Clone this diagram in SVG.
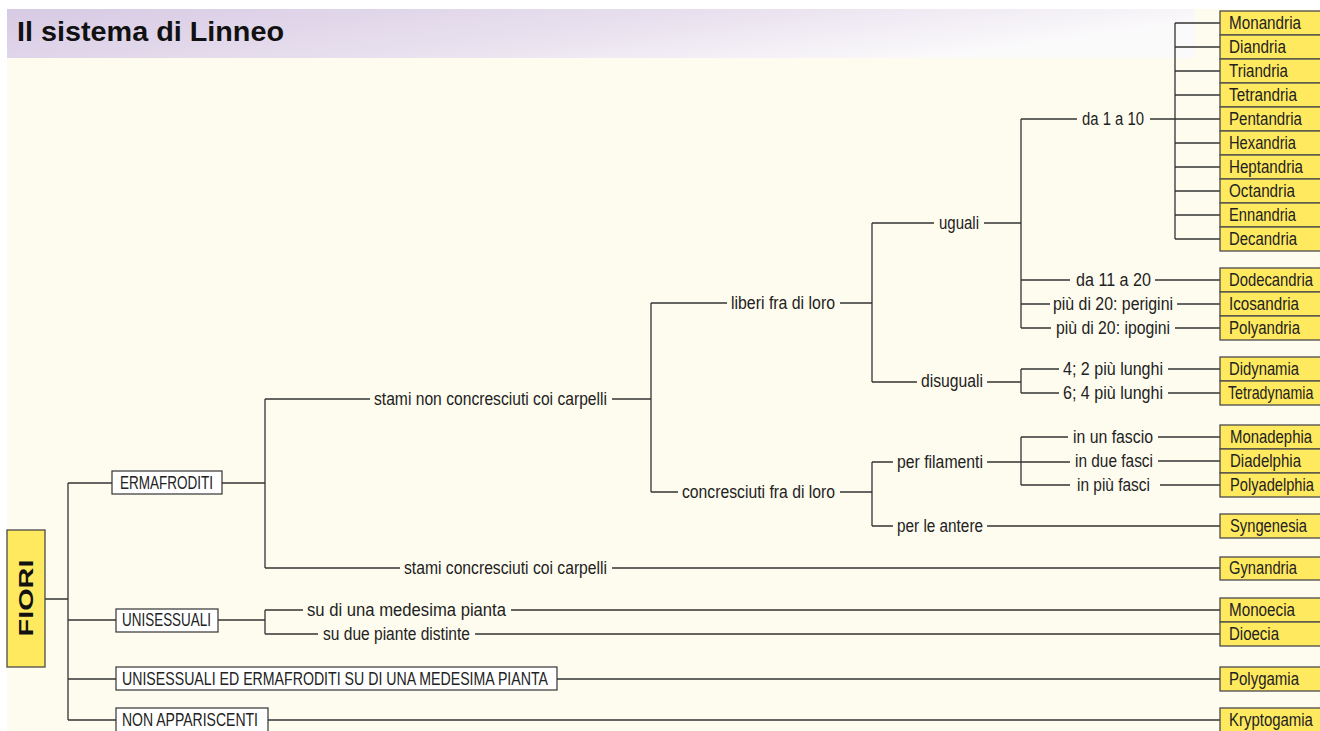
<svg xmlns="http://www.w3.org/2000/svg" width="1320" height="731" viewBox="0 0 1320 731">
<defs>
<linearGradient id="tg" x1="0" y1="0" x2="1" y2="0.3">
<stop offset="0" stop-color="#D7CAE4"/>
<stop offset="0.55" stop-color="#E8E0EE"/>
<stop offset="1" stop-color="#FBFAFB"/>
</linearGradient>
<style>
.ln{stroke:#333;stroke-width:1.3;fill:none}
.yb{fill:#FFE95F;stroke:#4a4a4a;stroke-width:1.3}
.wb{fill:#fff;stroke:#333;stroke-width:1.2}
.t{font-family:"Liberation Sans",Arial,sans-serif;font-size:17.5px;fill:#222}
.b{font-family:"Liberation Sans",Arial,sans-serif;font-weight:bold;fill:#111}
</style>
</defs>
<rect x="0" y="0" width="1320" height="731" fill="#fff"/>
<rect x="7" y="9" width="1313" height="722" fill="#FEFCEF"/>
<rect x="7" y="9" width="1188" height="49" fill="url(#tg)"/>
<text class="b" x="17" y="41" font-size="28" textLength="267" lengthAdjust="spacingAndGlyphs">Il sistema di Linneo</text>

<g id="connectors" class="ln">
<path d="M45 599H68M68 483V720M68 483H112M68 620H116M68 679H116M68 720H116"/>
<path d="M222 483H265M265 399V568M265 399H370M612 399H651M265 568H400M612 568H1220"/>
<path d="M651 303V492M651 303H727M840 303H872M651 492H678M840 492H872"/>
<path d="M872 223V382M872 223H934M984 223H1021M872 382H917M987 382H1021"/>
<path d="M1021 119V328M1021 119H1077M1150 119H1175M1175 23V239"/>
<path d="M1175 23H1220M1175 47H1220M1175 71H1220M1175 95H1220M1175 119H1220M1175 143H1220M1175 167H1220M1175 191H1220M1175 215H1220M1175 239H1220"/>
<path d="M1021 280H1070M1155 280H1220M1021 304H1050M1177 304H1220M1021 328H1051M1175 328H1220"/>
<path d="M1021 369V393M1021 369H1059M1168 369H1220M1021 393H1059M1168 393H1220"/>
<path d="M872 462V526M872 462H893M987 462H1070M1021 437V485M1021 437H1068M1158 437H1220M1158 461H1220M1021 485H1070M1160 485H1220M872 526H893M987 526H1220"/>
<path d="M218 620H265M265 610V634M265 610H303M511 610H1220M265 634H318M475 634H1220M557 679H1220M268 720H1220"/>
</g>

<g id="fiori"><rect class="yb" x="7" y="530" width="38" height="137"/><text class="b" font-size="21" text-anchor="middle" transform="translate(33 598) rotate(-90)" textLength="77" lengthAdjust="spacingAndGlyphs">FIORI</text></g>

<g id="ermafroditi"><rect class="wb" x="112" y="471" width="110" height="23"/><text class="t" x="120" y="489" textLength="93" lengthAdjust="spacingAndGlyphs">ERMAFRODITI</text></g>
<g id="unisessuali"><rect class="wb" x="116" y="609" width="102" height="23"/><text class="t" x="122" y="626" textLength="89" lengthAdjust="spacingAndGlyphs">UNISESSUALI</text></g>
<g id="unisessuali-ermafroditi"><rect class="wb" x="116" y="667" width="441" height="23"/><text class="t" x="122" y="685" textLength="426" lengthAdjust="spacingAndGlyphs">UNISESSUALI ED ERMAFRODITI SU DI UNA MEDESIMA PIANTA</text></g>
<g id="non-appariscenti"><rect class="wb" x="116" y="708" width="152" height="28"/><text class="t" x="122" y="726" textLength="136" lengthAdjust="spacingAndGlyphs">NON APPARISCENTI</text></g>

<g id="stami-non"><text class="t" x="374" y="405" textLength="233" lengthAdjust="spacingAndGlyphs">stami non concresciuti coi carpelli</text></g>
<g id="stami-conc"><text class="t" x="404" y="574" textLength="203" lengthAdjust="spacingAndGlyphs">stami concresciuti coi carpelli</text></g>
<g id="liberi"><text class="t" x="731" y="309" textLength="104" lengthAdjust="spacingAndGlyphs">liberi fra di loro</text></g>
<g id="concresciuti"><text class="t" x="682" y="498" textLength="153" lengthAdjust="spacingAndGlyphs">concresciuti fra di loro</text></g>
<g id="uguali"><text class="t" x="939" y="229" textLength="40" lengthAdjust="spacingAndGlyphs">uguali</text></g>
<g id="disuguali"><text class="t" x="921" y="387" textLength="62" lengthAdjust="spacingAndGlyphs">disuguali</text></g>
<g id="da1a10"><text class="t" x="1082" y="125" textLength="62" lengthAdjust="spacingAndGlyphs">da 1 a 10</text></g>
<g id="da11a20"><text class="t" x="1076" y="286" textLength="75" lengthAdjust="spacingAndGlyphs">da 11 a 20</text></g>
<g id="perigini"><text class="t" x="1053" y="310" textLength="120" lengthAdjust="spacingAndGlyphs">più di 20: perigini</text></g>
<g id="ipogini"><text class="t" x="1056" y="334" textLength="114" lengthAdjust="spacingAndGlyphs">più di 20: ipogini</text></g>
<g id="quattro"><text class="t" x="1063" y="375" textLength="100" lengthAdjust="spacingAndGlyphs">4; 2 più lunghi</text></g>
<g id="sei"><text class="t" x="1063" y="399" textLength="100" lengthAdjust="spacingAndGlyphs">6; 4 più lunghi</text></g>
<g id="filamenti"><text class="t" x="897" y="468" textLength="86" lengthAdjust="spacingAndGlyphs">per filamenti</text></g>
<g id="antere"><text class="t" x="897" y="532" textLength="86" lengthAdjust="spacingAndGlyphs">per le antere</text></g>
<g id="unfascio"><text class="t" x="1073" y="443" textLength="80" lengthAdjust="spacingAndGlyphs">in un fascio</text></g>
<g id="duefasci"><text class="t" x="1075" y="467" textLength="78" lengthAdjust="spacingAndGlyphs">in due fasci</text></g>
<g id="piufasci"><text class="t" x="1077" y="491" textLength="73" lengthAdjust="spacingAndGlyphs">in più fasci</text></g>
<g id="medesima"><text class="t" x="307" y="616" textLength="199" lengthAdjust="spacingAndGlyphs">su di una medesima pianta</text></g>
<g id="distinte"><text class="t" x="323" y="640" textLength="147" lengthAdjust="spacingAndGlyphs">su due piante distinte</text></g>

<g id="monandria"><rect class="yb" x="1220" y="11" width="110" height="24"/><text class="t" x="1229" y="29" textLength="72" lengthAdjust="spacingAndGlyphs">Monandria</text></g>
<g id="diandria"><rect class="yb" x="1220" y="35" width="110" height="24"/><text class="t" x="1229" y="53" textLength="57" lengthAdjust="spacingAndGlyphs">Diandria</text></g>
<g id="triandria"><rect class="yb" x="1220" y="59" width="110" height="24"/><text class="t" x="1229" y="77" textLength="59" lengthAdjust="spacingAndGlyphs">Triandria</text></g>
<g id="tetrandria"><rect class="yb" x="1220" y="83" width="110" height="24"/><text class="t" x="1229" y="101" textLength="68" lengthAdjust="spacingAndGlyphs">Tetrandria</text></g>
<g id="pentandria"><rect class="yb" x="1220" y="107" width="110" height="24"/><text class="t" x="1229" y="125" textLength="73" lengthAdjust="spacingAndGlyphs">Pentandria</text></g>
<g id="hexandria"><rect class="yb" x="1220" y="131" width="110" height="24"/><text class="t" x="1229" y="149" textLength="67" lengthAdjust="spacingAndGlyphs">Hexandria</text></g>
<g id="heptandria"><rect class="yb" x="1220" y="155" width="110" height="24"/><text class="t" x="1229" y="173" textLength="74" lengthAdjust="spacingAndGlyphs">Heptandria</text></g>
<g id="octandria"><rect class="yb" x="1220" y="179" width="110" height="24"/><text class="t" x="1229" y="197" textLength="66" lengthAdjust="spacingAndGlyphs">Octandria</text></g>
<g id="ennandria"><rect class="yb" x="1220" y="203" width="110" height="24"/><text class="t" x="1229" y="221" textLength="67" lengthAdjust="spacingAndGlyphs">Ennandria</text></g>
<g id="decandria"><rect class="yb" x="1220" y="227" width="110" height="24"/><text class="t" x="1229" y="245" textLength="68" lengthAdjust="spacingAndGlyphs">Decandria</text></g>

<g id="dodecandria"><rect class="yb" x="1220" y="268" width="110" height="24"/><text class="t" transform="translate(1229 286) scale(0.847 1)">Dodecandria</text></g>
<g id="icosandria"><rect class="yb" x="1220" y="292" width="110" height="24"/><text class="t" x="1229" y="310" textLength="70" lengthAdjust="spacingAndGlyphs">Icosandria</text></g>
<g id="polyandria"><rect class="yb" x="1220" y="316" width="110" height="24"/><text class="t" x="1229" y="334" textLength="71" lengthAdjust="spacingAndGlyphs">Polyandria</text></g>

<g id="didynamia"><rect class="yb" x="1220" y="357" width="110" height="24"/><text class="t" x="1229" y="375" textLength="70" lengthAdjust="spacingAndGlyphs">Didynamia</text></g>
<g id="tetradynamia"><rect class="yb" x="1220" y="381" width="110" height="24"/><text class="t" transform="translate(1228 399) scale(0.813 1)">Tetradynamia</text></g>

<g id="monadephia"><rect class="yb" x="1220" y="425" width="110" height="24"/><text class="t" transform="translate(1230 443) scale(0.852 1)">Monadephia</text></g>
<g id="diadelphia"><rect class="yb" x="1220" y="449" width="110" height="24"/><text class="t" x="1230" y="467" textLength="71" lengthAdjust="spacingAndGlyphs">Diadelphia</text></g>
<g id="polyadelphia"><rect class="yb" x="1220" y="473" width="110" height="24"/><text class="t" transform="translate(1230 491) scale(0.838 1)">Polyadelphia</text></g>
<g id="syngenesia"><rect class="yb" x="1220" y="514" width="110" height="24"/><text class="t" x="1230" y="532" textLength="77" lengthAdjust="spacingAndGlyphs">Syngenesia</text></g>
<g id="gynandria"><rect class="yb" x="1220" y="557" width="110" height="23"/><text class="t" x="1229" y="574" textLength="68" lengthAdjust="spacingAndGlyphs">Gynandria</text></g>
<g id="monoecia"><rect class="yb" x="1220" y="598" width="110" height="24"/><text class="t" x="1229" y="616" textLength="66" lengthAdjust="spacingAndGlyphs">Monoecia</text></g>
<g id="dioecia"><rect class="yb" x="1220" y="622" width="110" height="24"/><text class="t" x="1229" y="640" textLength="50" lengthAdjust="spacingAndGlyphs">Dioecia</text></g>
<g id="polygamia"><rect class="yb" x="1220" y="667" width="110" height="24"/><text class="t" x="1229" y="685" textLength="70" lengthAdjust="spacingAndGlyphs">Polygamia</text></g>
<g id="kryptogamia"><rect class="yb" x="1220" y="708" width="110" height="28"/><text class="t" transform="translate(1229 726) scale(0.855 1)">Kryptogamia</text></g>
</svg>
